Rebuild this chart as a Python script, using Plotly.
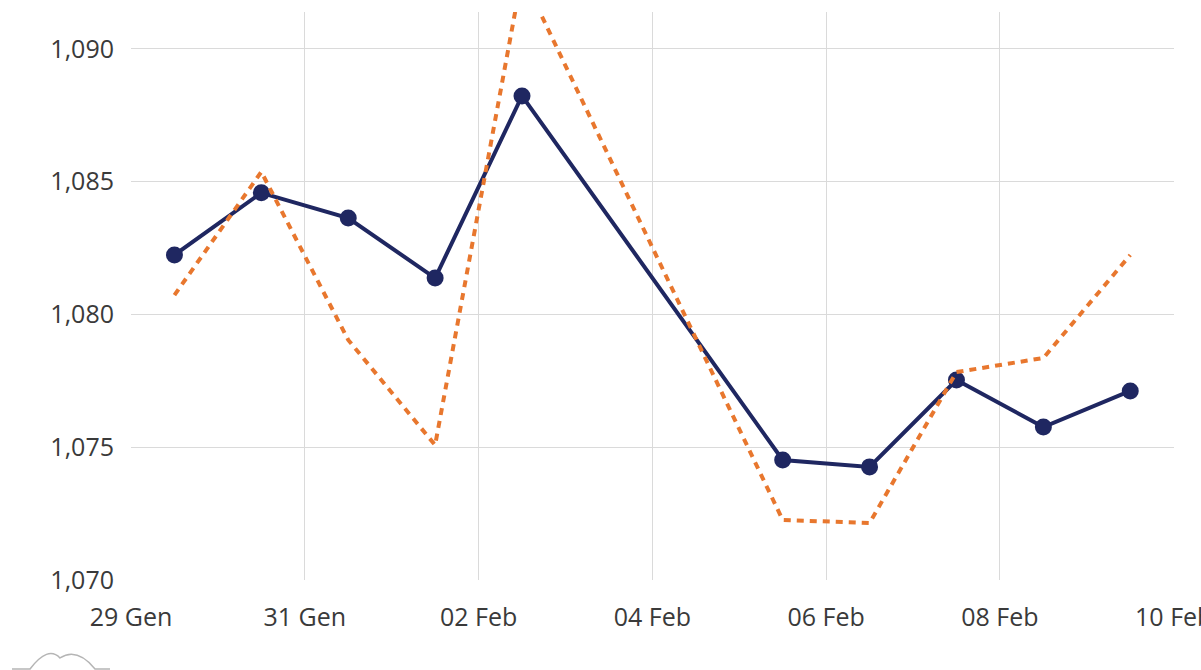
import plotly.graph_objects as go

# Daily observations (weekdays), timestamped at midday
dates = [
    "2024-01-29 12:00", "2024-01-30 12:00", "2024-01-31 12:00",
    "2024-02-01 12:00", "2024-02-02 12:00",
    "2024-02-05 12:00", "2024-02-06 12:00", "2024-02-07 12:00",
    "2024-02-08 12:00", "2024-02-09 12:00",
]
actual = [1.08224, 1.08458, 1.08363, 1.08137, 1.08823,
          1.07452, 1.07426, 1.07753, 1.07576, 1.07712]
forecast = [1.08073, 1.08537, 1.07904, 1.07508, 1.09279,
            1.07226, 1.07215, 1.07783, 1.07836, 1.08224]

tick_dates = ["2024-01-29", "2024-01-31", "2024-02-02", "2024-02-04",
              "2024-02-06", "2024-02-08", "2024-02-10"]
tick_labels = ["29 Gen", "31 Gen", "02 Feb", "04 Feb", "06 Feb", "08 Feb", "10 Feb"]

NAVY = "#1f2761"
ORANGE = "#e8772e"
GRID = "#dadada"
TEXT = "#3a3a3a"

fig = go.Figure()
fig.add_trace(go.Scatter(
    x=dates, y=actual, mode="lines+markers",
    line=dict(color=NAVY, width=4),
    marker=dict(color=NAVY, size=17),
    showlegend=False,
))
fig.add_trace(go.Scatter(
    x=dates, y=forecast, mode="lines",
    line=dict(color=ORANGE, width=4, dash="7px,6px"),
    showlegend=False,
))

# small mountain logo at the lower-left corner
logo = ("M -0.1141,-0.1567 L -0.0968,-0.1567 Q -0.0796,-0.1150 -0.0681,-0.1373 "
        "Q -0.0518,-0.1180 -0.0345,-0.1567 L -0.0201,-0.1567")

fig.update_layout(
    width=1201, height=670,
    margin=dict(l=131, r=27, t=12, b=90),
    paper_bgcolor="white", plot_bgcolor="white",
    separators=",.",
    font=dict(family="Open Sans", size=25, color=TEXT),
    shapes=[dict(type="path", path=logo, xref="paper", yref="paper",
                 line=dict(color="#b5b5b5", width=1.5), layer="above")],
)
fig.update_xaxes(
    type="date", range=["2024-01-29", "2024-02-10 00:05"],
    tickvals=tick_dates, ticktext=tick_labels,
    showgrid=True, gridcolor=GRID, gridwidth=1,
    showline=False, zeroline=False, ticks="", ticklabelstandoff=20,
    ticklabeloverflow="allow", automargin=False,
)
fig.update_yaxes(
    range=[1.070, 1.09139], dtick=0.005, tick0=1.070, tickformat=".3f",
    showgrid=True, gridcolor=GRID, gridwidth=1,
    showline=False, zeroline=False, ticks="", ticklabelstandoff=16,
    automargin=False,
)

fig.write_html("out.html")
